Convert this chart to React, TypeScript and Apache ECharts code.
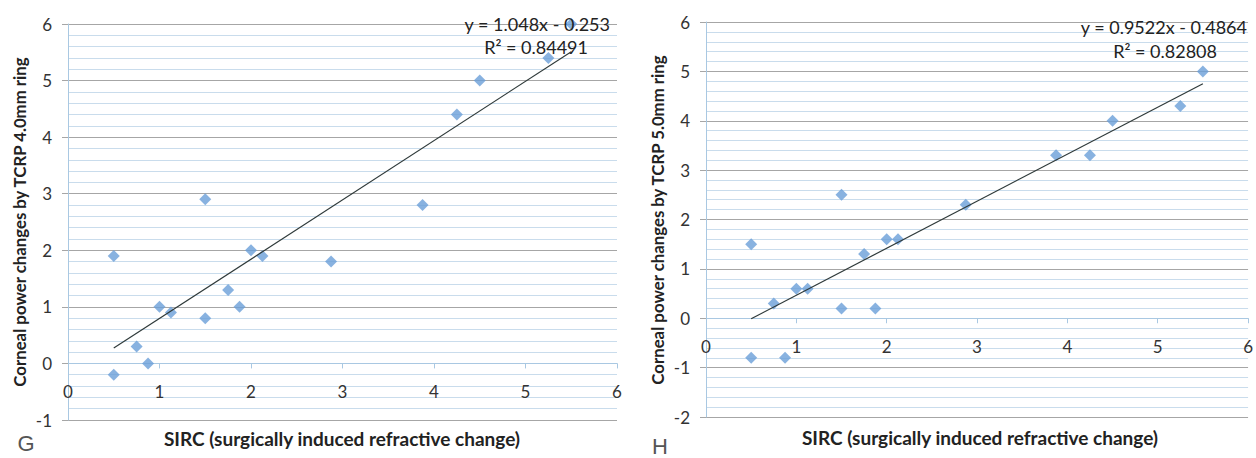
import React, { useEffect, useRef } from "react";
import * as echarts from "echarts";

// Panel G (TCRP 4.0mm ring)
const gX = [0.5, 0.5, 0.75, 0.875, 1, 1.125, 1.5, 1.5, 1.75, 1.875, 2, 2.125, 2.875, 3.875, 4.25, 4.5, 5.25, 5.5];
const gY = [1.9, -0.2, 0.3, 0, 1, 0.9, 0.8, 2.9, 1.3, 1, 2, 1.9, 1.8, 2.8, 4.4, 5, 5.4, 6];
const gSlope = 1.048;
const gIntercept = -0.253;
const gEq = "y = 1.048x - 0.253";
const gR2 = "R² = 0.84491";
const gYMin = -1;

// Panel H (TCRP 5.0mm ring)
const hX = [0.5, 0.5, 0.75, 0.875, 1, 1.125, 1.5, 1.5, 1.75, 1.875, 2, 2.125, 2.875, 3.875, 4.25, 4.5, 5.25, 5.5];
const hY = [1.5, -0.8, 0.3, -0.8, 0.6, 0.6, 0.2, 2.5, 1.3, 0.2, 1.6, 1.6, 2.3, 3.3, 3.3, 4, 4.3, 5];
const hSlope = 0.9522;
const hIntercept = -0.4864;
const hEq = "y = 0.9522x - 0.4864";
const hR2 = "R² = 0.82808";
const hYMin = -2;

const yMax = 6;
const trendRange = [0.5, 5.5];
const xTitle = "SIRC (surgically induced refractive change)";
const gYTitle = "Corneal power changes by TCRP 4.0mm ring";
const hYTitle = "Corneal power changes by TCRP 5.0mm ring";

const FONT = "Lato, 'Open Sans', sans-serif";
const AXIS_BLUE = "#a9c8e2";
const MINOR = "#c9dcec";
const MAJOR = "#a6a6a6";
const MARK = "#6a9fd8";

const G_GRID = { left: 68, top: 24, width: 549, height: 396 };
const H_GRID = { left: 706, top: 22, width: 549, height: 395 };

function xAxisCfg(gridIndex: number, gridH: number, yMin: number) {
  // shift the x axis up so that it crosses the y axis at 0
  const offset = -(gridH * (0 - yMin)) / (yMax - yMin);
  return {
    type: "value",
    gridIndex,
    min: 0,
    max: 6,
    interval: 1,
    position: "bottom",
    offset,
    axisLine: { show: true, onZero: false, lineStyle: { color: AXIS_BLUE, width: 1 } },
    axisTick: { show: true, length: 5, lineStyle: { color: AXIS_BLUE } },
    axisLabel: { margin: 20, fontSize: 17, color: "#333", fontFamily: FONT },
    splitLine: { show: false },
  };
}

function yAxisCfg(gridIndex: number, min: number) {
  return {
    type: "value",
    gridIndex,
    min,
    max: yMax,
    interval: 1,
    axisLine: { show: true, onZero: false, lineStyle: { color: AXIS_BLUE, width: 1 } },
    axisTick: { show: true, length: 6, lineStyle: { color: MAJOR } },
    axisLabel: { margin: 16, fontSize: 17, color: "#333", fontFamily: FONT },
    splitLine: { show: true, lineStyle: { color: MAJOR, width: 1 } },
    minorTick: { show: false, splitNumber: 5 },
    minorSplitLine: { show: true, lineStyle: { color: MINOR, width: 1 } },
  };
}

export default function App() {
  const ref = useRef<HTMLDivElement>(null);
  useEffect(() => {
    if (!ref.current) return;
    const chart = echarts.init(ref.current, null, { renderer: "svg" });
    const gPts = gX.map((x, i) => [x, gY[i]]);
    const hPts = hX.map((x, i) => [x, hY[i]]);
    const gLine = trendRange.map((x) => [x, gSlope * x + gIntercept]);
    const hLine = trendRange.map((x) => [x, hSlope * x + hIntercept]);
    const xTitleStyle = { fontSize: 19, fontWeight: "bold", fill: "#222", fontFamily: FONT };
    const yTitleStyle = { fontSize: 16.8, fontWeight: "bold", fill: "#222", fontFamily: FONT };
    const eqStyle = { fontSize: 18, fill: "#222", fontFamily: FONT, align: "right", verticalAlign: "middle" };
    const letterStyle = { fontSize: 22, fill: "#555", fontFamily: "'Liberation Sans', Arial, sans-serif", align: "center", verticalAlign: "middle" };
    chart.setOption({
      animation: false,
      backgroundColor: "#ffffff",
      grid: [G_GRID, H_GRID],
      xAxis: [xAxisCfg(0, G_GRID.height, gYMin), xAxisCfg(1, H_GRID.height, hYMin)],
      yAxis: [yAxisCfg(0, gYMin), yAxisCfg(1, hYMin)],
      series: [
        {
          type: "scatter",
          xAxisIndex: 0,
          yAxisIndex: 0,
          data: gPts,
          symbol: "diamond",
          symbolSize: 12,
          itemStyle: { color: MARK },
          z: 3,
        },
        {
          type: "line",
          xAxisIndex: 0,
          yAxisIndex: 0,
          data: gLine,
          symbol: "none",
          lineStyle: { color: "#2f3a3a", width: 1.2 },
          z: 4,
        },
        {
          type: "scatter",
          xAxisIndex: 1,
          yAxisIndex: 1,
          data: hPts,
          symbol: "diamond",
          symbolSize: 12,
          itemStyle: { color: MARK },
          z: 3,
        },
        {
          type: "line",
          xAxisIndex: 1,
          yAxisIndex: 1,
          data: hLine,
          symbol: "none",
          lineStyle: { color: "#2f3a3a", width: 1.2 },
          z: 4,
        },
      ],
      graphic: [
        { type: "text", x: 342, y: 438, style: { ...xTitleStyle, text: xTitle, align: "center", verticalAlign: "middle" } },
        { type: "text", x: 980, y: 437, style: { ...xTitleStyle, text: xTitle, align: "center", verticalAlign: "middle" } },
        { type: "text", x: 19, y: 222, rotation: Math.PI / 2, style: { ...yTitleStyle, text: gYTitle, align: "center", verticalAlign: "middle" } },
        { type: "text", x: 657, y: 220, rotation: Math.PI / 2, style: { ...yTitleStyle, text: hYTitle, align: "center", verticalAlign: "middle" } },
        { type: "text", x: 610, y: 24, z: 10, style: { ...eqStyle, text: gEq } },
        { type: "text", x: 588, y: 47, z: 10, style: { ...eqStyle, text: gR2 } },
        { type: "text", x: 1247, y: 27, z: 10, style: { ...eqStyle, text: hEq } },
        { type: "text", x: 1217, y: 51, z: 10, style: { ...eqStyle, text: hR2 } },
        { type: "text", x: 26, y: 443, style: { ...letterStyle, text: "G" } },
        { type: "text", x: 660, y: 446, style: { ...letterStyle, text: "H" } },
      ],
    });
    return () => chart.dispose();
  }, []);
  return (
    <div
      ref={ref}
      style={{ position: "fixed", left: 0, top: 0, width: 1256, height: 458 }}
    />
  );
}
